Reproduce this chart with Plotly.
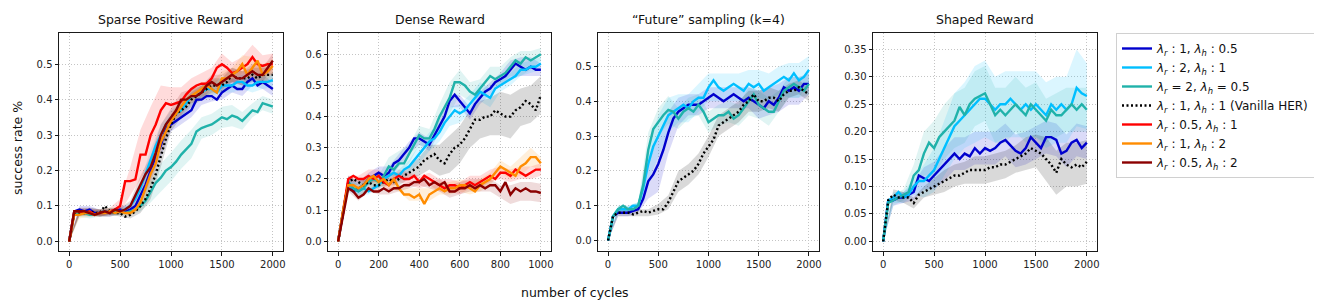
import plotly.graph_objects as go

# ---------------- data ----------------
cycles_2000 = list(range(0, 2001, 50))
cycles_1000 = list(range(0, 1001, 25))
band_x_2000 = list(range(0, 2001, 100))
band_x_1000 = list(range(0, 1001, 50))

labels = [
    "<i>λ<sub>r</sub></i> : 1, <i>λ<sub>h</sub></i> : 0.5",
    "<i>λ<sub>r</sub></i> : 2, <i>λ<sub>h</sub></i> : 1",
    "<i>λ<sub>r</sub></i> = 2, <i>λ<sub>h</sub></i> = 0.5",
    "<i>λ<sub>r</sub></i> : 1, <i>λ<sub>h</sub></i> : 1 (Vanilla HER)",
    "<i>λ<sub>r</sub></i> : 0.5, <i>λ<sub>h</sub></i> : 1",
    "<i>λ<sub>r</sub></i> : 1, <i>λ<sub>h</sub></i> : 2",
    "<i>λ<sub>r</sub></i> : 0.5, <i>λ<sub>h</sub></i> : 2",
]
keys = ["blue", "lightblue", "teal", "black", "red", "orange", "darkred"]

# Sparse Positive Reward (x: 0..2000 step 50)
sparse_blue = [0.0, 0.085, 0.09, 0.085, 0.09, 0.08, 0.08, 0.085, 0.08, 0.085, 0.09, 0.085, 0.09, 0.10, 0.13, 0.16, 0.20, 0.24, 0.27, 0.32, 0.33,
               0.34, 0.35, 0.36, 0.37, 0.40, 0.40, 0.41, 0.41, 0.40, 0.42, 0.43, 0.44, 0.43, 0.43, 0.45, 0.46, 0.44, 0.45, 0.44, 0.43]
sparse_lightblue = [0.0, 0.08, 0.085, 0.08, 0.085, 0.075, 0.08, 0.08, 0.085, 0.08, 0.085, 0.09, 0.10, 0.12, 0.15, 0.19, 0.23, 0.27, 0.30, 0.33, 0.35,
                    0.36, 0.37, 0.39, 0.41, 0.41, 0.42, 0.43, 0.43, 0.42, 0.44, 0.44, 0.44, 0.45, 0.45, 0.44, 0.44, 0.45, 0.45, 0.45, 0.455]
sparse_teal = [0.0, 0.08, 0.08, 0.08, 0.075, 0.075, 0.08, 0.085, 0.08, 0.085, 0.085, 0.08, 0.085, 0.09, 0.10, 0.115, 0.14, 0.165, 0.18, 0.20, 0.21,
               0.225, 0.245, 0.26, 0.275, 0.31, 0.32, 0.325, 0.33, 0.34, 0.35, 0.345, 0.355, 0.35, 0.34, 0.355, 0.37, 0.365, 0.39, 0.385, 0.38]
sparse_black = [0.0, 0.075, 0.08, 0.08, 0.085, 0.08, 0.08, 0.10, 0.085, 0.08, 0.08, 0.07, 0.075, 0.085, 0.10, 0.12, 0.15, 0.19, 0.24, 0.29, 0.33,
                0.36, 0.37, 0.38, 0.40, 0.41, 0.42, 0.43, 0.44, 0.44, 0.44, 0.45, 0.47, 0.46, 0.46, 0.46, 0.47, 0.46, 0.47, 0.47, 0.47]
sparse_red = [0.0, 0.085, 0.085, 0.08, 0.085, 0.075, 0.08, 0.08, 0.085, 0.09, 0.10, 0.17, 0.17, 0.175, 0.245, 0.245, 0.30, 0.33, 0.37, 0.39, 0.385,
              0.39, 0.395, 0.415, 0.43, 0.44, 0.445, 0.445, 0.46, 0.49, 0.50, 0.49, 0.475, 0.48, 0.49, 0.50, 0.52, 0.50, 0.495, 0.50, 0.50]
sparse_orange = [0.0, 0.075, 0.075, 0.08, 0.08, 0.075, 0.08, 0.08, 0.085, 0.08, 0.085, 0.08, 0.08, 0.09, 0.11, 0.15, 0.19, 0.22, 0.28, 0.31, 0.34,
                 0.36, 0.38, 0.40, 0.41, 0.42, 0.43, 0.44, 0.43, 0.42, 0.46, 0.46, 0.47, 0.48, 0.50, 0.47, 0.49, 0.51, 0.47, 0.48, 0.495]
sparse_darkred = [0.0, 0.085, 0.085, 0.085, 0.08, 0.075, 0.08, 0.085, 0.08, 0.09, 0.085, 0.09, 0.10, 0.13, 0.16, 0.19, 0.21, 0.25, 0.30, 0.33, 0.35,
                  0.37, 0.40, 0.40, 0.41, 0.41, 0.42, 0.44, 0.45, 0.44, 0.45, 0.46, 0.47, 0.46, 0.46, 0.47, 0.48, 0.47, 0.47, 0.49, 0.51]

# Dense Reward (x: 0..1000 step 25)
dense_blue = [0.0, 0.10, 0.19, 0.16, 0.17, 0.18, 0.20, 0.21, 0.22, 0.21, 0.22, 0.25, 0.26, 0.28, 0.30, 0.33, 0.33, 0.32, 0.31, 0.34, 0.37,
              0.40, 0.45, 0.47, 0.45, 0.43, 0.41, 0.44, 0.46, 0.48, 0.49, 0.51, 0.52, 0.53, 0.55, 0.57, 0.56, 0.55, 0.56, 0.55, 0.55]
dense_lightblue = [0.0, 0.10, 0.18, 0.17, 0.16, 0.17, 0.16, 0.17, 0.18, 0.20, 0.21, 0.22, 0.21, 0.23, 0.24, 0.26, 0.28, 0.30, 0.32, 0.33, 0.35,
                   0.38, 0.40, 0.42, 0.41, 0.42, 0.44, 0.46, 0.48, 0.47, 0.46, 0.49, 0.50, 0.51, 0.52, 0.53, 0.55, 0.55, 0.56, 0.56, 0.57]
dense_teal = [0.0, 0.10, 0.19, 0.17, 0.16, 0.17, 0.19, 0.20, 0.19, 0.21, 0.24, 0.23, 0.25, 0.25, 0.28, 0.31, 0.34, 0.33, 0.33, 0.36, 0.40,
              0.43, 0.46, 0.51, 0.51, 0.50, 0.48, 0.47, 0.49, 0.51, 0.53, 0.52, 0.53, 0.54, 0.56, 0.58, 0.57, 0.59, 0.58, 0.59, 0.60]
dense_black = [0.0, 0.10, 0.19, 0.20, 0.19, 0.18, 0.19, 0.18, 0.18, 0.19, 0.20, 0.19, 0.20, 0.21, 0.22, 0.23, 0.24, 0.26, 0.27, 0.28, 0.26,
               0.25, 0.28, 0.30, 0.31, 0.33, 0.36, 0.39, 0.39, 0.40, 0.40, 0.42, 0.41, 0.40, 0.40, 0.42, 0.43, 0.45, 0.44, 0.42, 0.47]
dense_red = [0.0, 0.10, 0.20, 0.21, 0.20, 0.20, 0.21, 0.20, 0.21, 0.19, 0.18, 0.20, 0.21, 0.20, 0.20, 0.21, 0.19, 0.21, 0.20, 0.19, 0.18,
             0.17, 0.18, 0.18, 0.17, 0.18, 0.19, 0.18, 0.19, 0.20, 0.21, 0.20, 0.22, 0.22, 0.21, 0.23, 0.22, 0.21, 0.22, 0.23, 0.23]
dense_orange = [0.0, 0.10, 0.18, 0.18, 0.17, 0.18, 0.20, 0.21, 0.19, 0.20, 0.18, 0.20, 0.17, 0.15, 0.15, 0.14, 0.15, 0.12, 0.15, 0.16, 0.17,
                0.16, 0.17, 0.17, 0.18, 0.18, 0.17, 0.16, 0.18, 0.19, 0.20, 0.22, 0.24, 0.23, 0.22, 0.21, 0.24, 0.25, 0.27, 0.27, 0.25]
dense_darkred = [0.0, 0.09, 0.17, 0.16, 0.14, 0.15, 0.17, 0.16, 0.16, 0.17, 0.16, 0.17, 0.17, 0.18, 0.18, 0.19, 0.19, 0.20, 0.18, 0.19, 0.18,
                 0.19, 0.16, 0.16, 0.17, 0.17, 0.18, 0.17, 0.18, 0.17, 0.18, 0.18, 0.16, 0.19, 0.15, 0.17, 0.16, 0.17, 0.16, 0.16, 0.155]

# "Future" sampling (x: 0..2000 step 50)
future_blue = [0.0, 0.07, 0.08, 0.08, 0.08, 0.085, 0.09, 0.12, 0.17, 0.19, 0.22, 0.26, 0.31, 0.35, 0.37, 0.38, 0.39, 0.39, 0.39, 0.40, 0.41,
               0.42, 0.41, 0.40, 0.41, 0.42, 0.41, 0.40, 0.41, 0.40, 0.39, 0.38, 0.40, 0.39, 0.41, 0.44, 0.43, 0.44, 0.43, 0.45, 0.45]
future_lightblue = [0.0, 0.07, 0.09, 0.09, 0.09, 0.10, 0.10, 0.15, 0.22, 0.27, 0.30, 0.33, 0.36, 0.37, 0.38, 0.39, 0.38, 0.40, 0.41, 0.41, 0.44,
                    0.46, 0.44, 0.43, 0.44, 0.45, 0.44, 0.43, 0.45, 0.44, 0.45, 0.43, 0.44, 0.45, 0.46, 0.47, 0.46, 0.48, 0.46, 0.47, 0.49]
future_teal = [0.0, 0.07, 0.09, 0.10, 0.09, 0.09, 0.10, 0.16, 0.26, 0.32, 0.34, 0.36, 0.375, 0.37, 0.35, 0.37, 0.38, 0.37, 0.39, 0.37, 0.34,
               0.35, 0.36, 0.36, 0.37, 0.35, 0.36, 0.38, 0.40, 0.42, 0.39, 0.38, 0.37, 0.37, 0.40, 0.43, 0.44, 0.45, 0.44, 0.43, 0.45]
future_black = [0.0, 0.07, 0.08, 0.08, 0.08, 0.075, 0.08, 0.085, 0.08, 0.085, 0.09, 0.09, 0.11, 0.14, 0.17, 0.18, 0.19, 0.20, 0.22, 0.25, 0.27,
                0.29, 0.33, 0.34, 0.35, 0.36, 0.37, 0.39, 0.40, 0.42, 0.40, 0.40, 0.41, 0.41, 0.40, 0.42, 0.43, 0.43, 0.44, 0.43, 0.42]

# Shaped Reward (x: 0..2000 step 50)
shaped_blue = [0.0, 0.075, 0.075, 0.08, 0.08, 0.085, 0.09, 0.12, 0.115, 0.11, 0.12, 0.13, 0.14, 0.15, 0.16, 0.15, 0.16, 0.155, 0.17, 0.16, 0.17,
               0.165, 0.17, 0.18, 0.185, 0.175, 0.165, 0.16, 0.17, 0.19, 0.18, 0.17, 0.19, 0.19, 0.185, 0.16, 0.165, 0.18, 0.185, 0.17, 0.18]
shaped_lightblue = [0.0, 0.075, 0.08, 0.09, 0.08, 0.085, 0.10, 0.11, 0.11, 0.12, 0.13, 0.15, 0.17, 0.19, 0.21, 0.22, 0.23, 0.24, 0.25, 0.26, 0.26,
                    0.25, 0.24, 0.25, 0.25, 0.26, 0.25, 0.24, 0.25, 0.24, 0.25, 0.24, 0.23, 0.25, 0.24, 0.25, 0.24, 0.25, 0.28, 0.27, 0.265]
shaped_teal = [0.0, 0.07, 0.075, 0.08, 0.085, 0.09, 0.12, 0.13, 0.16, 0.18, 0.17, 0.19, 0.20, 0.21, 0.22, 0.245, 0.23, 0.25, 0.26, 0.265, 0.27,
               0.25, 0.23, 0.24, 0.23, 0.24, 0.25, 0.24, 0.23, 0.25, 0.24, 0.23, 0.22, 0.24, 0.23, 0.23, 0.24, 0.25, 0.24, 0.25, 0.24]
shaped_black = [0.0, 0.075, 0.085, 0.08, 0.08, 0.08, 0.07, 0.085, 0.09, 0.095, 0.10, 0.105, 0.11, 0.115, 0.12, 0.12, 0.125, 0.13, 0.13, 0.13, 0.13,
                0.135, 0.135, 0.14, 0.14, 0.145, 0.15, 0.155, 0.16, 0.17, 0.165, 0.16, 0.15, 0.14, 0.125, 0.15, 0.14, 0.135, 0.14, 0.135, 0.145]

# band half-widths (std shading), sampled every 100 cycles (every 50 for dense)
sparse_band = {
    "blue": [0, 0.01, 0.01, 0.01, 0.01, 0.01, 0.01, 0.02, 0.03, 0.03, 0.02, 0.02, 0.02, 0.015, 0.015, 0.02, 0.02, 0.02, 0.02, 0.02, 0.02],
    "lightblue": [0, 0.01, 0.01, 0.01, 0.01, 0.01, 0.01, 0.02, 0.03, 0.03, 0.02, 0.02, 0.02, 0.02, 0.02, 0.02, 0.02, 0.02, 0.02, 0.02, 0.02],
    "teal": [0, 0.01, 0.01, 0.01, 0.01, 0.01, 0.01, 0.015, 0.03, 0.04, 0.04, 0.04, 0.04, 0.03, 0.03, 0.03, 0.03, 0.025, 0.02, 0.02, 0.02],
    "black": [0, 0.01, 0.01, 0.01, 0.01, 0.01, 0.01, 0.02, 0.03, 0.03, 0.02, 0.02, 0.02, 0.02, 0.02, 0.02, 0.02, 0.02, 0.02, 0.02, 0.02],
    "red": [0, 0.01, 0.01, 0.01, 0.01, 0.02, 0.04, 0.07, 0.08, 0.07, 0.05, 0.04, 0.03, 0.03, 0.03, 0.03, 0.03, 0.03, 0.035, 0.03, 0.03],
    "orange": [0, 0.01, 0.01, 0.01, 0.01, 0.01, 0.01, 0.02, 0.03, 0.03, 0.02, 0.02, 0.02, 0.02, 0.02, 0.02, 0.02, 0.025, 0.03, 0.03, 0.02],
    "darkred": [0, 0.01, 0.01, 0.01, 0.01, 0.01, 0.015, 0.025, 0.03, 0.03, 0.025, 0.02, 0.02, 0.02, 0.02, 0.02, 0.02, 0.02, 0.02, 0.02, 0.02],
}
dense_band = {
    "blue": [0, 0.02, 0.02, 0.02, 0.02, 0.02, 0.02, 0.02, 0.02, 0.02, 0.02, 0.02, 0.02, 0.02, 0.02, 0.02, 0.02, 0.03, 0.03, 0.03, 0.02],
    "lightblue": [0, 0.02, 0.01, 0.01, 0.01, 0.02, 0.02, 0.02, 0.03, 0.03, 0.03, 0.03, 0.03, 0.03, 0.03, 0.03, 0.02, 0.02, 0.02, 0.02, 0.02],
    "teal": [0, 0.02, 0.02, 0.02, 0.02, 0.03, 0.04, 0.03, 0.03, 0.03, 0.04, 0.05, 0.04, 0.03, 0.03, 0.03, 0.03, 0.03, 0.04, 0.03, 0.02],
    "black": [0, 0.01, 0.01, 0.01, 0.01, 0.02, 0.02, 0.02, 0.03, 0.04, 0.05, 0.06, 0.06, 0.06, 0.06, 0.06, 0.07, 0.07, 0.06, 0.06, 0.06],
    "red": [0, 0.01, 0.01, 0.02, 0.02, 0.02, 0.02, 0.02, 0.02, 0.02, 0.02, 0.02, 0.02, 0.02, 0.02, 0.02, 0.02, 0.02, 0.02, 0.02, 0.02],
    "orange": [0, 0.01, 0.01, 0.01, 0.01, 0.01, 0.01, 0.02, 0.02, 0.02, 0.02, 0.02, 0.02, 0.02, 0.02, 0.02, 0.02, 0.02, 0.03, 0.03, 0.02],
    "darkred": [0, 0.01, 0.01, 0.01, 0.01, 0.01, 0.01, 0.01, 0.01, 0.01, 0.02, 0.02, 0.02, 0.02, 0.02, 0.02, 0.02, 0.03, 0.03, 0.03, 0.03],
}
future_band = {
    "blue": [0, 0.01, 0.01, 0.01, 0.05, 0.08, 0.06, 0.04, 0.03, 0.03, 0.03, 0.03, 0.03, 0.03, 0.03, 0.04, 0.04, 0.04, 0.04, 0.04, 0.03],
    "lightblue": [0, 0.01, 0.01, 0.01, 0.05, 0.06, 0.05, 0.04, 0.04, 0.04, 0.04, 0.04, 0.04, 0.04, 0.04, 0.04, 0.04, 0.04, 0.05, 0.05, 0.04],
    "teal": [0, 0.01, 0.01, 0.01, 0.05, 0.04, 0.04, 0.03, 0.03, 0.03, 0.03, 0.03, 0.03, 0.03, 0.04, 0.04, 0.04, 0.03, 0.03, 0.03, 0.03],
    "black": [0, 0.01, 0.01, 0.01, 0.01, 0.015, 0.02, 0.03, 0.03, 0.03, 0.03, 0.03, 0.03, 0.03, 0.03, 0.03, 0.03, 0.03, 0.02, 0.02, 0.02],
}
shaped_band = {
    "blue": [0, 0.01, 0.01, 0.015, 0.02, 0.025, 0.03, 0.03, 0.03, 0.03, 0.03, 0.03, 0.03, 0.03, 0.03, 0.03, 0.03, 0.03, 0.03, 0.03, 0.03],
    "lightblue": [0, 0.01, 0.01, 0.015, 0.03, 0.04, 0.05, 0.06, 0.06, 0.07, 0.07, 0.06, 0.06, 0.06, 0.06, 0.06, 0.06, 0.06, 0.06, 0.07, 0.06],
    "teal": [0, 0.01, 0.01, 0.02, 0.04, 0.05, 0.05, 0.05, 0.05, 0.05, 0.05, 0.05, 0.05, 0.05, 0.05, 0.05, 0.04, 0.04, 0.04, 0.04, 0.04],
    "black": [0, 0.01, 0.01, 0.01, 0.01, 0.015, 0.02, 0.02, 0.02, 0.025, 0.025, 0.025, 0.025, 0.025, 0.03, 0.03, 0.04, 0.04, 0.04, 0.04, 0.04],
}

titles = ["Sparse Positive Reward", "Dense Reward", "\u201cFuture\u201d sampling (k=4)", "Shaped Reward"]

# ---------------- style ----------------
colors = {"blue": (0, 0, 205), "lightblue": (0, 191, 255), "teal": (32, 178, 170), "black": (0, 0, 0),
          "red": (255, 0, 0), "orange": (255, 140, 0), "darkred": (139, 0, 0)}
OFF = 8                      # page body margin; positions below are given in window pixels
W, H = 1322 - 2 * OFF, 308 - 2 * OFF


def px(x):
    return (x - OFF) / W


def py(y):
    return (H - (y - OFF)) / H


boxes = [(59, 283), (328, 551), (598, 819), (873, 1097)]
y_top, y_bot = 33, 251
yranges = [(-0.027, 0.588), (-0.031, 0.668), (-0.030, 0.596), (-0.0177, 0.380)]
xranges = [(-100, 2100), (-50, 1050), (-100, 2100), (-100, 2100)]
xticks = [list(range(0, 2001, 500)), list(range(0, 1001, 200)), list(range(0, 2001, 500)), list(range(0, 2001, 500))]
yticks = [[i / 10 for i in range(6)], [i / 10 for i in range(7)], [i / 10 for i in range(6)], [i * 0.05 for i in range(8)]]
yfmt = [".1f", ".1f", ".1f", ".2f"]

panels = [
    (cycles_2000, band_x_2000, {"blue": sparse_blue, "lightblue": sparse_lightblue, "teal": sparse_teal, "black": sparse_black,
                                "red": sparse_red, "orange": sparse_orange, "darkred": sparse_darkred}, sparse_band),
    (cycles_1000, band_x_1000, {"blue": dense_blue, "lightblue": dense_lightblue, "teal": dense_teal, "black": dense_black,
                                "red": dense_red, "orange": dense_orange, "darkred": dense_darkred}, dense_band),
    (cycles_2000, band_x_2000, {"blue": future_blue, "lightblue": future_lightblue, "teal": future_teal, "black": future_black}, future_band),
    (cycles_2000, band_x_2000, {"blue": shaped_blue, "lightblue": shaped_lightblue, "teal": shaped_teal, "black": shaped_black}, shaped_band),
]

fig = go.Figure()
FONT = "DejaVu Sans"

for p, (xs, bx, series, bands) in enumerate(panels):
    xa = "x" if p == 0 else f"x{p+1}"
    ya = "y" if p == 0 else f"y{p+1}"
    for k in keys:
        if k not in series:
            continue
        ys = series[k]
        step = len(xs) // (len(bx) - 1)
        centre = ys[::step]
        hw = bands[k]
        upper = [c + h for c, h in zip(centre, hw)]
        lower = [c - h for c, h in zip(centre, hw)]
        r, g, b = colors[k]
        alpha = 0.15 if k == "black" else 0.14
        fig.add_trace(go.Scatter(x=bx + bx[::-1], y=upper + lower[::-1], fill="toself",
                                 fillcolor=f"rgba({r},{g},{b},{alpha})", line=dict(width=0),
                                 mode="lines", hoverinfo="skip", showlegend=False, xaxis=xa, yaxis=ya))
    for i, k in enumerate(keys):
        if k not in series:
            continue
        r, g, b = colors[k]
        fig.add_trace(go.Scatter(x=xs, y=series[k], mode="lines", name=labels[i],
                                 line=dict(color=f"rgb({r},{g},{b})", width=2.4,
                                           dash="2px,2.5px" if k == "black" else "solid"),
                                 showlegend=(p == 0), legendrank=i + 1, xaxis=xa, yaxis=ya))

    x0, x1 = boxes[p]
    axis_common = dict(showline=True, linecolor="#1a1a1a", linewidth=1, mirror=True, ticks="outside",
                       ticklen=3.5, tickcolor="#1a1a1a", tickfont=dict(family=FONT, size=10, color="#222"),
                       showgrid=True, gridcolor="#c4c4c4", gridwidth=0.8, griddash="1.2px,1.8px", zeroline=False)
    fig.layout[f"xaxis{'' if p == 0 else p+1}"] = dict(
        domain=[px(x0), px(x1)], range=list(xranges[p]), tickvals=xticks[p], anchor=ya, **axis_common)
    fig.layout[f"yaxis{'' if p == 0 else p+1}"] = dict(
        domain=[py(y_bot), py(y_top)], range=list(yranges[p]), tickvals=yticks[p],
        tickformat=yfmt[p], anchor=xa, **axis_common)
    fig.add_annotation(text=titles[p], x=px((x0 + x1) / 2), y=py(19), xref="paper", yref="paper",
                       showarrow=False, xanchor="center", yanchor="middle",
                       font=dict(family=FONT, size=12.5, color="#111"))

fig.add_annotation(text="number of cycles", x=px(575), y=py(292), xref="paper", yref="paper",
                   showarrow=False, xanchor="center", yanchor="middle", font=dict(family=FONT, size=12.5, color="#111"))
fig.add_annotation(text="success rate %", x=px(17), y=py(148), xref="paper", yref="paper", textangle=-90,
                   showarrow=False, xanchor="center", yanchor="middle", font=dict(family=FONT, size=12.5, color="#111"))

fig.update_layout(
    width=W, height=H, margin=dict(l=0, r=0, t=0, b=0, autoexpand=False),
    paper_bgcolor="white", plot_bgcolor="white", hovermode=False,
    legend=dict(x=px(1116), y=py(33), xanchor="left", yanchor="top", bgcolor="white",
                bordercolor="#d0d0d0", borderwidth=1, font=dict(family=FONT, size=12, color="#111"),
                traceorder="normal", itemwidth=30, tracegroupgap=0),
)

fig.write_html("out.html")
